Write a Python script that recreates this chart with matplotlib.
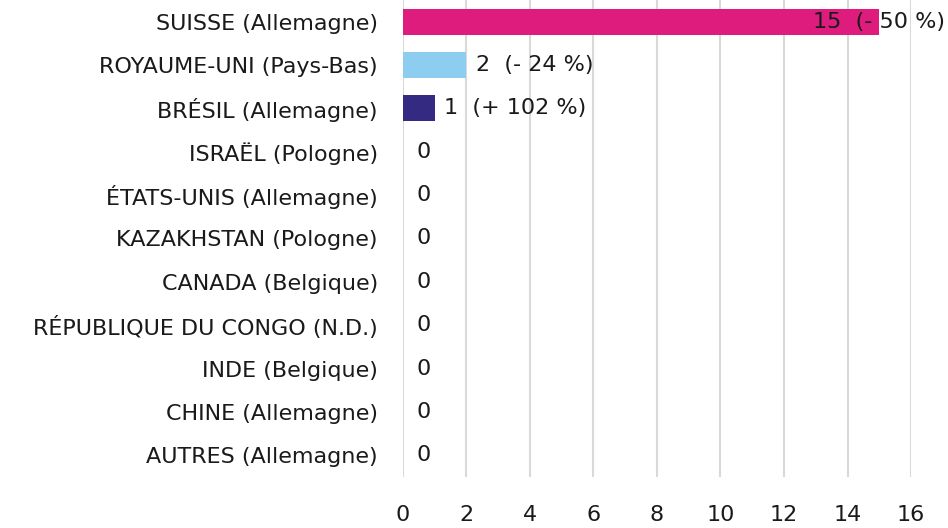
import matplotlib
matplotlib.use("Agg")
import matplotlib.pyplot as plt
from matplotlib.transforms import blended_transform_factory

plt.rcParams['font.family'] = ['DejaVu Sans']

categories = [
    "SUISSE (Allemagne)",
    "ROYAUME-UNI (Pays-Bas)",
    "BRÉSIL (Allemagne)",
    "ISRAËL (Pologne)",
    "ÉTATS-UNIS (Allemagne)",
    "KAZAKHSTAN (Pologne)",
    "CANADA (Belgique)",
    "RÉPUBLIQUE DU CONGO (N.D.)",
    "INDE (Belgique)",
    "CHINE (Allemagne)",
    "AUTRES (Allemagne)",
]
values = [15, 2, 1, 0, 0, 0, 0, 0, 0, 0, 0]
changes = ["- 50 %", "- 24 %", "+ 102 %", None, None, None, None, None, None, None, None]
bar_colors = ["#DD1C7E", "#8DCDF0", "#352A81"] + ["#352A81"] * 8
xticks = [0, 2, 4, 6, 8, 10, 12, 14, 16]

FS = 16
fig = plt.figure(figsize=(9.48, 5.28), dpi=100)
ax = fig.add_axes([0.425, 0.0966, 0.536, 0.9034])

ypos = list(range(len(categories)))
ax.barh(ypos, values, height=0.6, color=bar_colors, zorder=3)

ax.set_xlim(0, 16)
ax.set_ylim(len(categories) - 0.5, -0.5)
ax.set_xticks(xticks)
ax.set_xticklabels([str(t) for t in xticks])
ax.set_yticks(ypos)
ax.set_yticklabels(categories)
ax.tick_params(axis='both', length=0, labelsize=FS, colors='#1a1a1a')
ax.tick_params(axis='x', pad=20)
ax.tick_params(axis='y', pad=18)
ax.grid(axis='x', color='#D9D9D9', linewidth=1.5, zorder=0)
ax.grid(axis='y', visible=False)
for s in ax.spines.values():
    s.set_visible(False)

edge = blended_transform_factory(fig.transFigure, ax.transData)
for i, (v, c) in enumerate(zip(values, changes)):
    label = f"{v}  ({c})" if c else f"{v}"
    if v >= 14:
        # keep the long label inside the figure
        ax.text(0.997, i, label, transform=edge, ha='right', va='center',
                fontsize=FS, color='#1a1a1a', zorder=4)
    else:
        off = 10 if v == 0 else 7
        ax.annotate(label, xy=(v, i), xytext=(off, 0), textcoords='offset points',
                    ha='left', va='center', fontsize=FS, color='#1a1a1a', zorder=4)

fig.savefig("out.png", dpi=100)
